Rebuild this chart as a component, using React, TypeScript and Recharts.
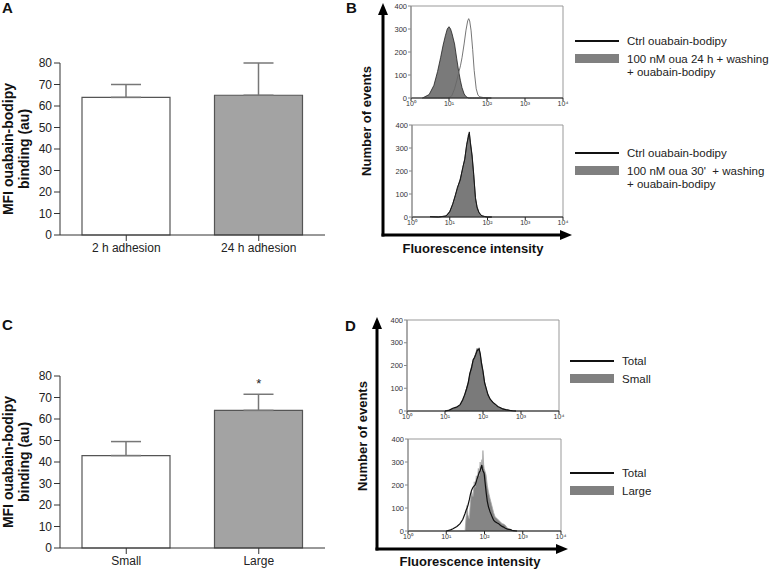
import React from "react";
import {
  ComposedChart,
  Bar,
  Cell,
  ErrorBar,
  Scatter,
  Area,
  Line,
  XAxis,
  YAxis,
  ReferenceArea,
} from "recharts";

const FONT = '"Liberation Sans", Arial, sans-serif';

// Panel A: MFI after adhesion time
const adhesionLabels = ["2 h adhesion", "24 h adhesion"];
const adhesionMfi = [64, 65];
const adhesionSem = [6, 15];

// Panel C: MFI by cell size
const sizeLabels = ["Small", "Large"];
const sizeMfi = [43, 64];
const sizeSem = [6.5, 7.5];
const sizeStars = [null, 77];

const barTicks = [0, 10, 20, 30, 40, 50, 60, 70, 80];
const barFills = ["#ffffff", "#a3a3a3"];

// histogram axes
const decadeTicks = [1, 10, 100, 1000, 10000];
const countTicks = [0, 100, 200, 300, 400];
const supers = ["\u2070", "\u00b9", "\u00b2", "\u00b3", "\u2074"];

// Panel B top: 100 nM oua 24 h + washing vs control
const b1X = [2, 3, 4, 5, 6, 7, 8, 9, 10, 11, 12, 14, 16, 18, 20, 22, 25, 28, 31, 33, 35, 38, 42, 46, 52, 58, 65, 80, 100, 130];
const b1Treated = [0, 15, 55, 115, 175, 230, 270, 300, 310, 300, 280, 235, 170, 115, 75, 45, 18, 6, 2, 0, 0, 0, 0, 0, 0, 0, 0, 0, 0, 0];
const b1Ctrl = [0, 0, 0, 0, 0, 0, 0, 0, 2, 5, 12, 40, 75, 110, 140, 175, 235, 295, 335, 345, 335, 295, 210, 120, 40, 12, 5, 2, 1, 0];

// Panel B bottom: 100 nM oua 30' + washing vs control
const b2X = [3, 5, 8, 10, 12, 14, 16, 19, 22, 25, 28, 31, 33, 35, 39, 43, 48, 53, 59, 66, 72, 85, 100, 130];
const b2Treated = [2, 0, 5, 25, 55, 95, 125, 167, 210, 255, 310, 356, 364, 330, 270, 190, 80, 45, 22, 10, 5, 2, 0, 0];
const b2Ctrl = [1, 0, 4, 22, 58, 92, 130, 160, 215, 250, 315, 345, 370, 325, 265, 185, 85, 40, 20, 9, 5, 2, 0, 0];

// Panel D top: total vs small cells
const d1X = [10, 13, 16, 20, 25, 29, 33, 37, 41, 45, 50, 55, 60, 65, 70, 75, 79, 85, 91, 100, 110, 122, 135, 155, 182, 210, 245, 290, 330, 400, 500, 600, 740];
const d1Small = [0, 3, 10, 15, 25, 45, 70, 100, 128, 160, 195, 220, 238, 255, 275, 265, 278, 245, 216, 170, 128, 95, 69, 50, 40, 28, 18, 13, 10, 5, 3, 1, 0];
const d1Total = [0, 4, 12, 17, 28, 48, 72, 98, 125, 165, 190, 225, 235, 250, 265, 270, 272, 250, 210, 175, 125, 98, 72, 52, 38, 30, 20, 14, 9, 6, 3, 1, 0];

// Panel D bottom: total vs large cells
const d2X = [10, 13, 15, 19, 23, 27, 31, 33, 35, 37, 40, 43, 46, 50, 54, 57, 61, 65, 69, 73, 77, 81, 85, 88, 91, 95, 98, 103, 110, 118, 127, 140, 155, 173, 190, 210, 234, 260, 288, 316, 350, 400, 475, 525, 580, 710];
const d2Large = [0, 0, 0, 0, 0, 0, 0, 60, 112, 70, 54, 130, 170, 150, 214, 190, 240, 220, 272, 240, 300, 260, 310, 280, 350, 290, 272, 260, 243, 200, 170, 140, 112, 80, 61, 55, 47, 40, 32, 30, 25, 12, 8, 3, 0, 0];
const d2Total = [0, 5, 10, 20, 32, 50, 76, 90, 100, 112, 135, 160, 177, 190, 196, 200, 215, 230, 243, 255, 262, 275, 287, 270, 262, 255, 250, 215, 170, 130, 105, 83, 65, 47, 40, 36, 32, 25, 20, 17, 12, 8, 6, 3, 2, 0];

function MfiTitle(props: any) {
  const { viewBox } = props;
  const cy = viewBox.y + viewBox.height / 2;
  return (
    <g fontFamily={FONT} fontWeight="bold" fontSize={14} fill="#111">
      <text transform={`translate(13, ${cy}) rotate(-90)`} textAnchor="middle">
        MFI ouabain-bodipy
      </text>
      <text transform={`translate(29, ${cy}) rotate(-90)`} textAnchor="middle">
        binding (au)
      </text>
    </g>
  );
}

function Star(props: any) {
  if (props.cy == null || isNaN(props.cy)) return null;
  return (
    <text x={props.cx} y={props.cy + 6} textAnchor="middle" fontSize={13} fontFamily={FONT} fill="#222">
      *
    </text>
  );
}

function MfiBars({
  top,
  labels,
  values,
  sem,
  stars,
}: {
  top: number;
  labels: string[];
  values: number[];
  sem: number[];
  stars?: (number | null)[];
}) {
  const data = labels.map((name, i) => ({
    name,
    value: values[i],
    err: [0, sem[i]],
    star: stars ? stars[i] : null,
  }));
  return (
    <div style={{ position: "absolute", left: 0, top }}>
      <ComposedChart width={340} height={270} data={data} margin={{ top: 63, right: 15, bottom: 0, left: 0 }}>
        <XAxis
          dataKey="name"
          height={35}
          stroke="#333"
          tickSize={6}
          tick={{ fontSize: 12, fill: "#222", fontFamily: FONT }}
        />
        <YAxis
          type="number"
          domain={[0, 80]}
          ticks={barTicks}
          interval={0}
          width={60}
          stroke="#333"
          tickSize={6}
          tick={{ fontSize: 12, fill: "#222", fontFamily: FONT }}
          label={<MfiTitle />}
        />
        <Bar dataKey="value" barSize={88} stroke="#555" strokeWidth={1.2} isAnimationActive={false}>
          {data.map((d, i) => (
            <Cell key={d.name} fill={barFills[i]} />
          ))}
          <ErrorBar dataKey="err" width={15} stroke="#777" strokeWidth={1.5} direction="y" />
        </Bar>
        {stars && <Scatter dataKey="star" shape={<Star />} isAnimationActive={false} />}
      </ComposedChart>
    </div>
  );
}

function Histogram({
  left,
  top,
  width,
  height,
  xs,
  filled,
  outline,
  fill,
  fillStroke,
  lineStroke,
  lineWidth,
}: {
  left: number;
  top: number;
  width: number;
  height: number;
  xs: number[];
  filled: number[];
  outline: number[];
  fill: string;
  fillStroke: string;
  lineStroke: string;
  lineWidth: number;
}) {
  const data = xs.map((x, i) => ({ x, filled: filled[i], outline: outline[i] }));
  return (
    <div style={{ position: "absolute", left, top }}>
      <ComposedChart width={width} height={height} data={data} margin={{ top: 6, right: 12, bottom: 0, left: 0 }}>
        <XAxis
          dataKey="x"
          type="number"
          scale="log"
          domain={[1, 10000]}
          allowDataOverflow
          ticks={decadeTicks}
          interval={0}
          tickFormatter={(v: number) => "10" + supers[Math.round(Math.log10(v))]}
          height={14}
          tickSize={3}
          tickMargin={0}
          stroke="#222"
          tick={{ fontSize: 7, fill: "#333", fontFamily: FONT }}
        />
        <YAxis
          type="number"
          domain={[0, 400]}
          ticks={countTicks}
          interval={0}
          width={30}
          tickSize={3}
          tickMargin={1}
          stroke="#888"
          tick={{ fontSize: 7.5, fill: "#333", fontFamily: FONT }}
        />
        <ReferenceArea x1={1} x2={10000} y1={0} y2={400} fill="none" stroke="#999" strokeWidth={1} />
        <Area
          type="linear"
          dataKey="filled"
          fill={fill}
          fillOpacity={1}
          stroke={fillStroke}
          strokeWidth={0.8}
          dot={false}
          isAnimationActive={false}
        />
        <Line
          type="linear"
          dataKey="outline"
          stroke={lineStroke}
          strokeWidth={lineWidth}
          dot={false}
          isAnimationActive={false}
        />
      </ComposedChart>
    </div>
  );
}

function LegendBlock({ x, y, lines }: { x: number; y: number; lines: string[][] }) {
  // lines[0] = line entry, lines[1] = filled entry (may wrap)
  return (
    <g fontFamily={FONT} fontSize={11.5} fill="#222">
      <line x1={x} x2={x + 44} y1={y} y2={y} stroke="#111" strokeWidth={2} />
      <text x={x + 52} y={y + 4}>
        {lines[0][0]}
      </text>
      <rect x={x} y={y + 13} width={44} height={9} fill="#808080" />
      {lines[1].map((t, i) => (
        <text key={i} x={x + 52} y={y + 22 + i * 13} xmlSpace="preserve">
          {t}
        </text>
      ))}
    </g>
  );
}

function Overlay() {
  return (
    <svg
      width={770}
      height={571}
      style={{ position: "absolute", left: 0, top: 0, pointerEvents: "none" }}
    >
      <g fontFamily={FONT} fontWeight="bold" fontSize={15} fill="#111">
        <text x={2} y={13}>A</text>
        <text x={346} y={13}>B</text>
        <text x={2} y={330}>C</text>
        <text x={345} y={331}>D</text>
      </g>

      {/* B axes arrows */}
      <line x1={383} y1={236.5} x2={383} y2={12} stroke="#000" strokeWidth={3} />
      <polygon points="383,3 378,15 388,15" fill="#000" />
      <line x1={381.5} y1={235} x2={562} y2={235} stroke="#000" strokeWidth={3} />
      <polygon points="572,235 560,230 560,240" fill="#000" />

      {/* D axes arrows */}
      <line x1={377} y1={550.5} x2={377} y2={326} stroke="#000" strokeWidth={3} />
      <polygon points="377,317 372,329 382,329" fill="#000" />
      <line x1={375.5} y1={549} x2={558} y2={549} stroke="#000" strokeWidth={3} />
      <polygon points="568,549 556,544 556,554" fill="#000" />

      <g fontFamily={FONT} fontWeight="bold" fontSize={13} fill="#111">
        <text transform="translate(371, 121) rotate(-90)" textAnchor="middle">Number of events</text>
        <text x={473} y={253} textAnchor="middle">Fluorescence intensity</text>
        <text transform="translate(367, 436) rotate(-90)" textAnchor="middle">Number of events</text>
        <text x={470} y={566} textAnchor="middle">Fluorescence intensity</text>
      </g>

      <LegendBlock x={575} y={41} lines={[["Ctrl ouabain-bodipy"], ["100 nM oua 24 h + washing", "+ ouabain-bodipy"]]} />
      <LegendBlock x={575} y={153} lines={[["Ctrl ouabain-bodipy"], ["100 nM oua 30'  + washing", "+ ouabain-bodipy"]]} />
      <LegendBlock x={570} y={361} lines={[["Total"], ["Small"]]} />
      <LegendBlock x={570} y={473} lines={[["Total"], ["Large"]]} />
    </svg>
  );
}

export default function App() {
  return (
    <div
      style={{
        position: "absolute",
        left: 0,
        top: 0,
        width: 770,
        height: 571,
        background: "#fff",
        overflow: "hidden",
        fontFamily: FONT,
      }}
    >
      <MfiBars top={0} labels={adhesionLabels} values={adhesionMfi} sem={adhesionSem} />
      <MfiBars top={313} labels={sizeLabels} values={sizeMfi} sem={sizeSem} stars={sizeStars} />

      <Histogram left={381} top={0} width={194} height={112} xs={b1X} filled={b1Treated} outline={b1Ctrl}
        fill="#7a7a7a" fillStroke="#222" lineStroke="#666" lineWidth={0.9} />
      <Histogram left={382} top={119} width={193} height={112} xs={b2X} filled={b2Treated} outline={b2Ctrl}
        fill="#7a7a7a" fillStroke="#222" lineStroke="#111" lineWidth={0.9} />
      <Histogram left={377} top={314} width={194} height={111} xs={d1X} filled={d1Small} outline={d1Total}
        fill="#7a7a7a" fillStroke="#555" lineStroke="#111" lineWidth={1.2} />
      <Histogram left={378} top={433} width={195} height={112} xs={d2X} filled={d2Large} outline={d2Total}
        fill="#858585" fillStroke="#aaa" lineStroke="#111" lineWidth={1.2} />

      <Overlay />
    </div>
  );
}
